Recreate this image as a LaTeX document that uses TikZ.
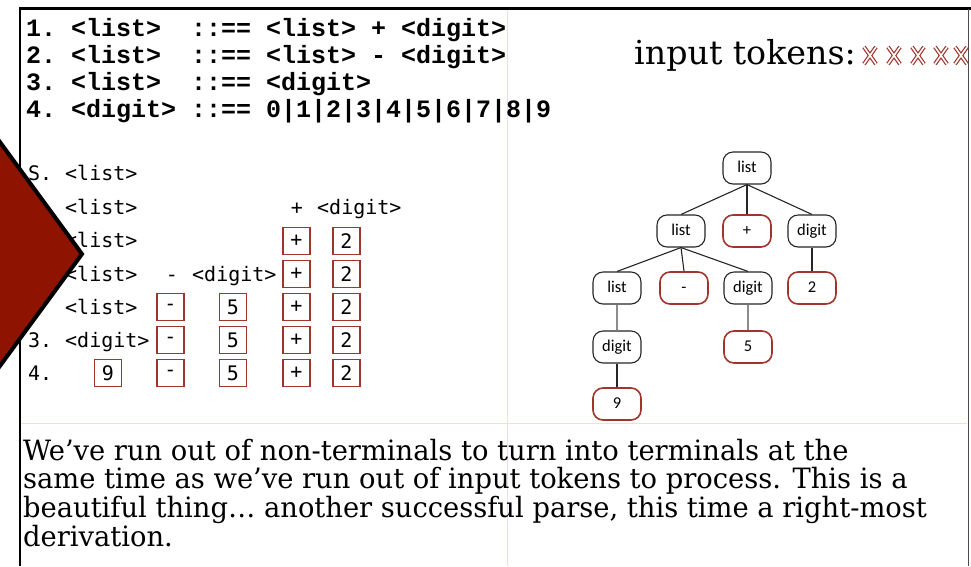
\documentclass[tikz,border=0pt]{standalone}
\usepackage{fontspec}
\newfontfamily\gramfont{Liberation Mono}
\newfontfamily\derfont{DejaVu Sans Mono}
\newfontfamily\treefont{Carlito}
\newfontfamily\serfont[FakeStretch=1.085]{DejaVu Serif Condensed}
\newfontfamily\tokfont[FakeStretch=1.12]{DejaVu Serif Condensed}
\definecolor{boxred}{HTML}{A0352D}
\definecolor{diamred}{HTML}{8E1300}
\definecolor{guide}{HTML}{F2E6B8}
\begin{document}
\begin{tikzpicture}[x=1pt,y=-1pt,
  gram/.style={anchor=base west, inner sep=0pt, font=\gramfont\bfseries\fontsize{25}{30}\selectfont},
  der/.style={anchor=base west, inner sep=0pt, font=\derfont\fontsize{20}{24}\selectfont},
  derc/.style={der, anchor=base},
  tbox/.style={draw=boxred, line width=1.2pt, minimum width=27pt, minimum height=27pt, inner sep=0pt, font=\derfont\fontsize{20}{24}\selectfont},
  tn/.style={draw=black!85, line width=1.1pt, rounded corners=10pt, minimum width=48pt, minimum height=32pt, inner sep=0pt, text height=11pt, text depth=3pt, font=\treefont\fontsize{16.5}{18}\selectfont, fill=white},
  tnr/.style={tn, draw=boxred, line width=1.6pt},
  tedge/.style={draw=black!85, line width=1.1pt},
  tedgel/.style={draw=black!45, line width=1.1pt},
  prose/.style={anchor=base west, inner sep=0pt, font=\serfont\fontsize{28}{30}\selectfont},
  guideline/.style={draw=guide, line width=1pt},
  tok/.style={draw=boxred, line width=4pt},
  tokin/.style={draw=white, line width=1.6pt}
]
\useasboundingbox (0,0) rectangle (971,566);
\fill[white] (0,0) rectangle (971,566);

% guide lines
\draw[guideline] (507,10) -- (507,566);
\draw[guideline] (21,423) -- (967,423);

% frame
\draw[black, line width=3pt] (19,8) -- (971,8);
\draw[black, line width=2.5pt] (20,8) -- (20,566);
\draw[black!70, line width=1pt] (968.5,9) -- (968.5,566);

% grammar
\node[gram] (g1) at (26,36) {1.~<list>~~::==~<list>~+~<digit>};
\node[gram] (g2) at (26,63) {2.~<list>~~::==~<list>~-~<digit>};
\node[gram] (g3) at (26,90) {3.~<list>~~::==~<digit>};
\node[gram] (g4) at (26,117) {4.~<digit>~::==~0|1|2|3|4|5|6|7|8|9};

% input tokens
\node[anchor=base west, inner sep=0pt, font=\tokfont\fontsize{33}{36}\selectfont] (it) at (634,64) {input tokens:};
\foreach \cx in {870,894,918,941,961} {
  \draw[tok] (\cx-6,47) -- (\cx+6,64) (\cx+6,47) -- (\cx-6,64);
  \draw[tokin] (\cx-6,47) -- (\cx+6,64) (\cx+6,47) -- (\cx-6,64);
}

% derivation
\node[der] (r1a) at (28,180) {S.};
\node[der] (r1b) at (65,180) {<list>};

\node[der] (r2a) at (65,214) {<list>};
\node[derc] (r2b) at (297,214) {+};
\node[der] (r2c) at (317,214) {<digit>};

\node[der] (r3a) at (65,247) {<list>};
\node[tbox] (r3p) at (296.5,241) {+};
\node[tbox] (r3t) at (346.5,241) {2};

\node[der] (r4a) at (65,281) {<list>};
\node[derc] (r4b) at (172,281) {-};
\node[der] (r4c) at (192,281) {<digit>};
\node[tbox] (r4p) at (296.5,274) {+};
\node[tbox] (r4t) at (346.5,274) {2};

\node[der] (r5a) at (65,314) {<list>};
\node[tbox] (r5m) at (170.5,307) {-};
\node[tbox] (r5f) at (233,307) {5};
\node[tbox] (r5p) at (296.5,307) {+};
\node[tbox] (r5t) at (346.5,307) {2};

\node[der] (r6l) at (28,347) {3.};
\node[der] (r6a) at (65,347) {<digit>};
\node[tbox] (r6m) at (170.5,340) {-};
\node[tbox] (r6f) at (233,340) {5};
\node[tbox] (r6p) at (296.5,340) {+};
\node[tbox] (r6t) at (346.5,340) {2};

\node[der] (r7l) at (28,380) {4.};
\node[tbox] (r7n) at (108,373) {9};
\node[tbox] (r7m) at (170.5,373) {-};
\node[tbox] (r7f) at (233,373) {5};
\node[tbox] (r7p) at (296.5,373) {+};
\node[tbox] (r7t) at (346.5,373) {2};

% parse tree
\node[tn] (root) at (747,168) {list};
\node[tn] (L) at (681,231) {list};
\node[tnr] (P) at (747,231) {+};
\node[tn] (D1) at (812,231) {digit};
\node[tn] (LL) at (617,288) {list};
\node[tnr] (M) at (684,288) {-};
\node[tn] (D2) at (748,288) {digit};
\node[tnr] (T2) at (812,288) {2};
\node[tn] (DD) at (617,347) {digit};
\node[tnr] (F) at (748,347) {5};
\node[tnr] (N) at (617,404) {9};

\draw[tedge] (root.south) -- (L.north);
\draw[tedge] (root.south) -- (P.north);
\draw[tedge] (root.south) -- (D1.north);
\draw[tedge] (L.south) -- (LL.north);
\draw[tedge] (L.south) -- (M.north);
\draw[tedge] (L.south) -- (D2.north);
\draw[tedge] (D1.south) -- (T2.north);
\draw[tedgel] (LL.south) -- (DD.north);
\draw[tedgel] (D2.south) -- (F.north);
\draw[tedge] (DD.south) -- (N.north);

% prose
\node[prose] (p1) at (23,460) {We’ve run out of non-terminals to turn into terminals at the};
\node[prose] (p2) at (23,488) {same time as we’ve run out of input tokens to process. This is a};
\node[prose] (p3) at (23,517) {beautiful thing… another successful parse, this time a right-most};
\node[prose] (p4) at (23,546) {derivation.};

% red diamond
\begin{scope}
\clip (0,0) rectangle (971,566);
\draw[fill=diamred, draw=black, line width=4pt, line join=miter] (-80,33) -- (82,254) -- (-80,475) -- cycle;
\end{scope}
\end{tikzpicture}
\end{document}
